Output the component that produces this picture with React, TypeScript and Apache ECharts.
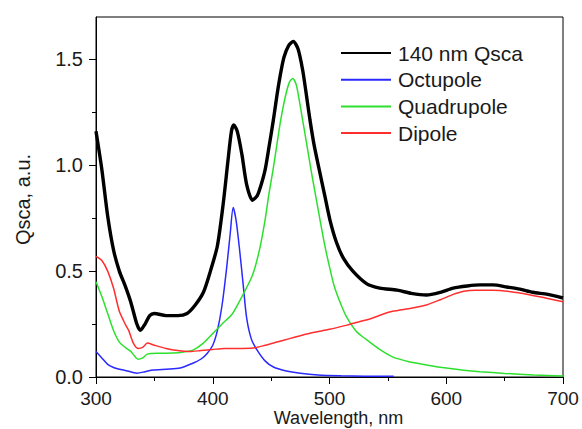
import React, { useEffect, useRef } from "react";
import * as echarts from "echarts";

// ---- data ----
const seriesNames = ["140 nm Qsca", "Octupole", "Quadrupole", "Dipole"];

const totalX = [300, 305, 310, 315, 320, 325, 330, 335, 338, 342, 346, 350, 360, 370, 378, 385, 392, 398, 404, 409, 413, 416, 418, 421, 425, 429, 434, 438, 441, 444.8, 448, 451.9, 455, 458, 461, 465, 469, 473, 477, 480, 483.3, 487, 491.3, 496, 500.4, 506, 512, 520, 532, 543, 558, 570, 583, 595, 606, 618, 629, 640, 652, 663, 674, 687, 700];
const totalY = [1.16, 0.98, 0.76, 0.6, 0.5, 0.43, 0.35, 0.25, 0.22, 0.25, 0.29, 0.3, 0.29, 0.29, 0.3, 0.34, 0.4, 0.5, 0.62, 0.82, 1.02, 1.16, 1.19, 1.16, 1.05, 0.91, 0.835, 0.855, 0.9, 0.977, 1.08, 1.213, 1.33, 1.43, 1.51, 1.565, 1.585, 1.55, 1.45, 1.34, 1.213, 1.09, 0.977, 0.855, 0.741, 0.635, 0.56, 0.5, 0.44, 0.42, 0.41, 0.395, 0.387, 0.4, 0.42, 0.43, 0.435, 0.435, 0.425, 0.415, 0.4, 0.39, 0.373];

const octX = [300, 305, 310, 315, 320, 326, 335, 342, 349, 360, 372, 383, 390, 395, 400, 404, 408, 412, 415, 417.5, 420, 423, 426, 429, 433, 438, 445, 452, 462, 475, 490, 510, 530, 555];
const octY = [0.12, 0.09, 0.06, 0.045, 0.037, 0.03, 0.018, 0.025, 0.033, 0.037, 0.042, 0.065, 0.085, 0.11, 0.15, 0.22, 0.34, 0.52, 0.68, 0.8, 0.74, 0.6, 0.44, 0.28, 0.18, 0.127, 0.075, 0.047, 0.03, 0.018, 0.01, 0.006, 0.004, 0.003];

const quadX = [300, 305, 310, 315, 320, 325, 330, 336, 340, 344, 355, 366, 375, 383, 392, 400, 408, 417, 426, 434, 440, 444.8, 448, 451.6, 455, 458.2, 462, 465.5, 468.5, 471.5, 474, 477, 480.5, 484.2, 488, 491.9, 496, 500, 504, 510, 515, 523, 532, 543, 554, 568, 583, 600, 615, 629, 650, 675, 700];
const quadY = [0.45, 0.38, 0.3, 0.22, 0.165, 0.14, 0.12, 0.084, 0.09, 0.108, 0.112, 0.113, 0.118, 0.127, 0.16, 0.205, 0.25, 0.3, 0.39, 0.48, 0.6, 0.741, 0.86, 0.977, 1.1, 1.213, 1.32, 1.39, 1.41, 1.38, 1.31, 1.213, 1.1, 0.977, 0.86, 0.741, 0.62, 0.52, 0.43, 0.34, 0.28, 0.215, 0.175, 0.13, 0.095, 0.072, 0.057, 0.042, 0.032, 0.025, 0.017, 0.01, 0.005];

const dipX = [300, 305, 310, 315, 320, 325, 328, 332, 336, 340, 344, 350, 360, 370, 380, 390, 400, 410, 420, 435, 445, 455, 465, 475, 486, 500, 515, 525, 535, 545, 554, 570, 583, 595, 606, 615, 625, 640, 655, 670, 685, 700];
const dipY = [0.57, 0.55, 0.5, 0.42, 0.31, 0.25, 0.22, 0.16, 0.135, 0.14, 0.16, 0.15, 0.135, 0.125, 0.12, 0.125, 0.13, 0.135, 0.135, 0.137, 0.15, 0.165, 0.18, 0.195, 0.21, 0.225, 0.245, 0.26, 0.275, 0.295, 0.31, 0.325, 0.34, 0.365, 0.39, 0.405, 0.41, 0.41, 0.403, 0.39, 0.373, 0.355];

const xTicks = [300, 400, 500, 600, 700];
const yTicks = [0, 0.5, 1.0, 1.5];
const yMinorTicks = [0.25, 0.75, 1.25];

const pairs = (xs: number[], ys: number[]) => xs.map((x, i) => [x, ys[i]]);

const FONT = "Liberation Sans, Arial, sans-serif";
const TXT = "#1a1a1a";

export default function App() {
  const ref = useRef<HTMLDivElement>(null);
  useEffect(() => {
    if (!ref.current) return;
    const chart = echarts.init(ref.current, undefined, { renderer: "svg" });
    const colors = ["#000000", "#2a2aff", "#2ee02e", "#ff2e2e"];
    const widths = [3.4, 1.5, 1.5, 1.5];
    const datasets = [pairs(totalX, totalY), pairs(octX, octY), pairs(quadX, quadY), pairs(dipX, dipY)];
    chart.setOption({
      animation: false,
      backgroundColor: "#ffffff",
      grid: {
        left: 96, right: 19, top: 17, bottom: 52,
        containLabel: false,
        outerBoundsMode: "none",
        show: true, borderColor: "#000", borderWidth: 1, backgroundColor: "transparent",
      },
      legend: {
        orient: "vertical",
        left: 340,
        top: 42.5,
        padding: 0,
        itemWidth: 50,
        itemHeight: 14,
        itemGap: 5.7,
        itemStyle: { opacity: 0 },
        textStyle: { fontSize: 21, fontFamily: FONT, color: TXT, lineHeight: 21, padding: [0, 0, 0, 2] },
        data: seriesNames,
      },
      xAxis: {
        type: "value",
        min: 300,
        max: 700,
        interval: 100,
        name: "Wavelength, nm",
        nameLocation: "middle",
        nameGap: 32.5,
        nameMoveOverlap: false,
        nameTextStyle: { fontSize: 18, fontFamily: FONT, color: TXT, lineHeight: 17, padding: [0, 0, 0, 18] },
        axisLine: { show: true, lineStyle: { color: "#000", width: 1 } },
        axisTick: { show: true, length: 7, lineStyle: { color: "#000" } },
        minorTick: { show: true, splitNumber: 2, length: 4, lineStyle: { color: "#000" } },
        splitLine: { show: false },
        axisLabel: { fontSize: 19, fontFamily: FONT, color: TXT, margin: 13, lineHeight: 16, customValues: xTicks },
      },
      yAxis: [
        {
          type: "value",
          min: 0,
          max: 1.7,
          name: "Qsca, a.u.",
          nameLocation: "middle",
          nameGap: 63,
          nameRotate: 90,
          nameMoveOverlap: false,
          nameTextStyle: { fontSize: 20, fontFamily: FONT, color: TXT, padding: [0, 5, 0, 0] },
          axisLine: { show: true, lineStyle: { color: "#000", width: 1 } },
          axisTick: { show: true, length: 7, lineStyle: { color: "#000" }, customValues: yTicks },
          splitLine: { show: false },
          axisLabel: { fontSize: 20, fontFamily: FONT, color: TXT, margin: 13, customValues: yTicks, formatter: (v: number) => v.toFixed(1) },
        },
        {
          type: "value",
          min: 0,
          max: 1.7,
          position: "left",
          axisLine: { show: false },
          axisTick: { show: true, length: 4, lineStyle: { color: "#000" }, customValues: yMinorTicks },
          axisLabel: { show: false },
          splitLine: { show: false },
        },
      ],
      series: seriesNames.map((name, i) => ({
        name,
        type: "line",
        data: datasets[i],
        showSymbol: false,
        symbol: "none",
        smooth: 0.25,
        z: i === 0 ? 2 : 3,
        lineStyle: { color: colors[i], width: widths[i] },
        itemStyle: { color: colors[i] },
      })),
    });
    return () => chart.dispose();
  }, []);
  return <div ref={ref} style={{ position: "fixed", left: 0, top: 0, width: 582, height: 429 }} />;
}
